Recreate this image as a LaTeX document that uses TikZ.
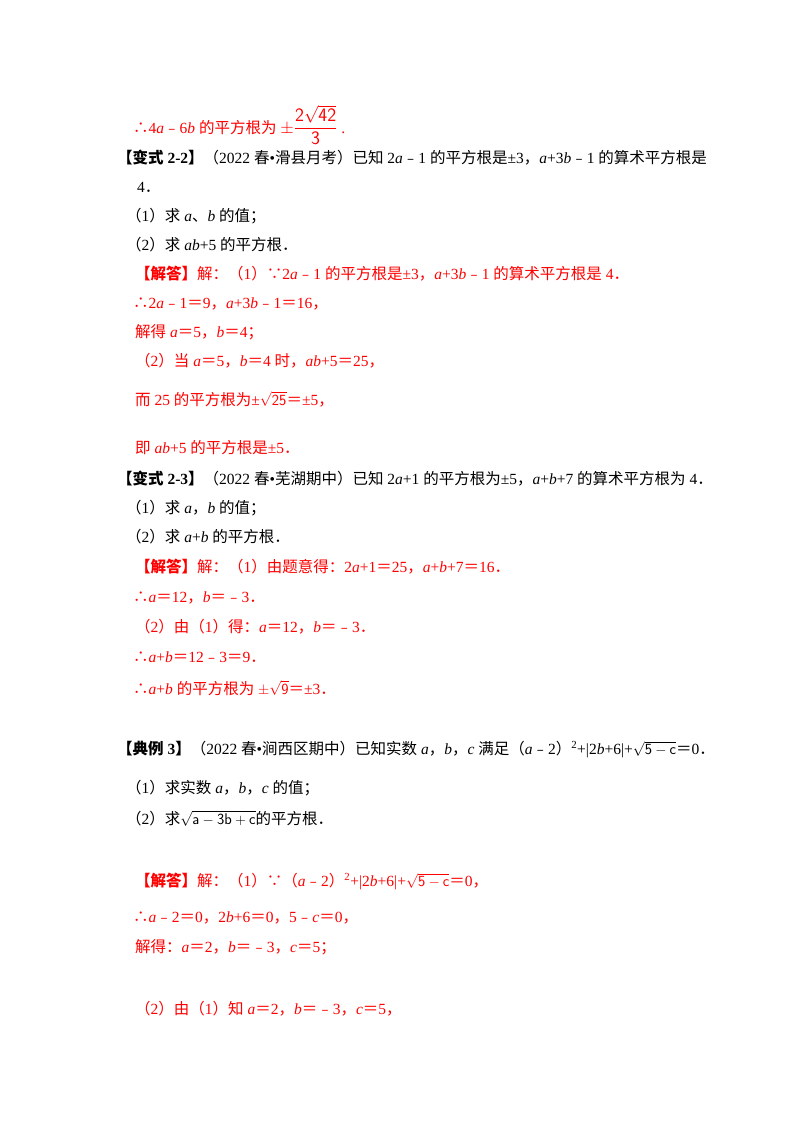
\documentclass[tikz,border=0pt]{standalone}
\usepackage{fontspec}
\setmainfont{Liberation Serif}
\newfontfamily\cjk{Noto Sans CJK SC}
\XeTeXinterchartokenstate=1
\newXeTeXintercharclass\cjkcls
\newcount\cc
\def\setcls#1#2{\cc=#1 \loop \XeTeXcharclass\cc=\cjkcls \ifnum\cc<#2 \advance\cc 1 \repeat}
\setcls{"4E00}{"9FFF}
\setcls{"3000}{"303F}
\setcls{"FF00}{"FFEF}
\setcls{"FE30}{"FE6F}
\XeTeXcharclass"2234=\cjkcls
\XeTeXcharclass"2235=\cjkcls
\XeTeXinterchartoks 0 \cjkcls = {\cjk}
\XeTeXinterchartoks 4095 \cjkcls = {\cjk}
\XeTeXinterchartoks \cjkcls 0 = {\rmfamily}
\XeTeXinterchartoks \cjkcls 4095 = {\rmfamily}
\definecolor{ans}{RGB}{255,0,0}
\newcommand{\va}[1]{{\rmfamily\itshape #1}}
\newcommand{\rt}[1]{$\sqrt{\mathsf{#1}}$}
\begin{document}
\begin{tikzpicture}[x=1pt,y=-1pt,
  ln/.style={anchor=base west,inner sep=0pt,font=\fontsize{15.5}{18}\selectfont},
  red/.style={ln,text=ans}]
\useasboundingbox (0,0) rectangle (800,1132);
\node[red] (l1) at (133,133) {∴4\va{a}﹣6\va{b} 的平方根为 {\fontsize{19}{22}\selectfont$\pm\displaystyle\frac{\mathsf{2}\sqrt{\mathsf{42}}}{\mathsf{3}}$} .};
\node[ln] (l2) at (117,163) {\textbf{【变式 2-2】}（2022 春•滑县月考）已知 2\va{a}﹣1 的平方根是±3，\va{a}+3\va{b}﹣1 的算术平方根是};
\node[ln] (l3) at (137,192) {\rmfamily 4．};
\node[ln] (l4) at (126,221) {（1）求 \va{a}、\va{b} 的值；};
\node[ln] (l5) at (126,250) {（2）求 \va{ab}+5 的平方根．};
\node[red] (l6) at (135,279) {\textbf{【解答】}解：（1）∵2\va{a}﹣1 的平方根是±3，\va{a}+3\va{b}﹣1 的算术平方根是 {\rmfamily 4}．};
\node[red] (l7) at (133,308) {∴2\va{a}﹣1＝9，\va{a}+3\va{b}﹣1＝16，};
\node[red] (l8) at (135,337) {解得 \va{a}＝5，\va{b}＝4；};
\node[red] (l9) at (135,366) {（2）当 \va{a}＝5，\va{b}＝4 时，\va{ab}+5＝25，};
\node[red] (l10) at (135,405) {而 {\rmfamily 25} 的平方根为±\rt{25}＝±5，};
\node[red] (l11) at (135,453) {即 \va{ab}+5 的平方根是±5．};
\node[ln] (l12) at (117,484) {\textbf{【变式 2-3】}（2022 春•芜湖期中）已知 2\va{a}+1 的平方根为±5，\va{a}+\va{b}+7 的算术平方根为 {\rmfamily 4}．};
\node[ln] (l13) at (126,513) {（1）求 \va{a}，\va{b} 的值；};
\node[ln] (l14) at (126,542) {（2）求 \va{a}+\va{b} 的平方根．};
\node[red] (l15) at (135,572) {\textbf{【解答】}解：（1）由题意得：2\va{a}+1＝25，\va{a}+\va{b}+7＝16．};
\node[red] (l16) at (133,602) {∴\va{a}＝12，\va{b}＝﹣3．};
\node[red] (l17) at (135,632) {（2）由（1）得：\va{a}＝12，\va{b}＝﹣3．};
\node[red] (l18) at (133,662) {∴\va{a}+\va{b}＝12﹣3＝9．};
\node[red] (l19) at (133,694) {∴\va{a}+\va{b} 的平方根为 $\pm$\rt{9}＝±3．};
\node[ln] (l20) at (117,754) {\textbf{【典例 3】}（2022 春•涧西区期中）已知实数 \va{a}，\va{b}，\va{c} 满足（\va{a}﹣2）\textsuperscript{2}+|2\va{b}+6|+\rt{5-c}＝0．};
\node[ln] (l21) at (126,793) {（1）求实数 \va{a}，\va{b}，\va{c} 的值；};
\node[ln] (l22) at (126,824) {（2）求\rt{a-3b+c}的平方根．};
\node[red] (l23) at (135,886) {\textbf{【解答】}解：（1）∵（\va{a}﹣2）\textsuperscript{2}+|2\va{b}+6|+\rt{5-c}＝0，};
\node[red] (l24) at (133,922) {∴\va{a}﹣2＝0，2\va{b}+6＝0，5﹣\va{c}＝0，};
\node[red] (l25) at (135,952) {解得：\va{a}＝2，\va{b}＝﹣3，\va{c}＝5；};
\node[red] (l26) at (135,1014) {（2）由（1）知 \va{a}＝2，\va{b}＝﹣3，\va{c}＝5，};
\end{tikzpicture}
\end{document}
